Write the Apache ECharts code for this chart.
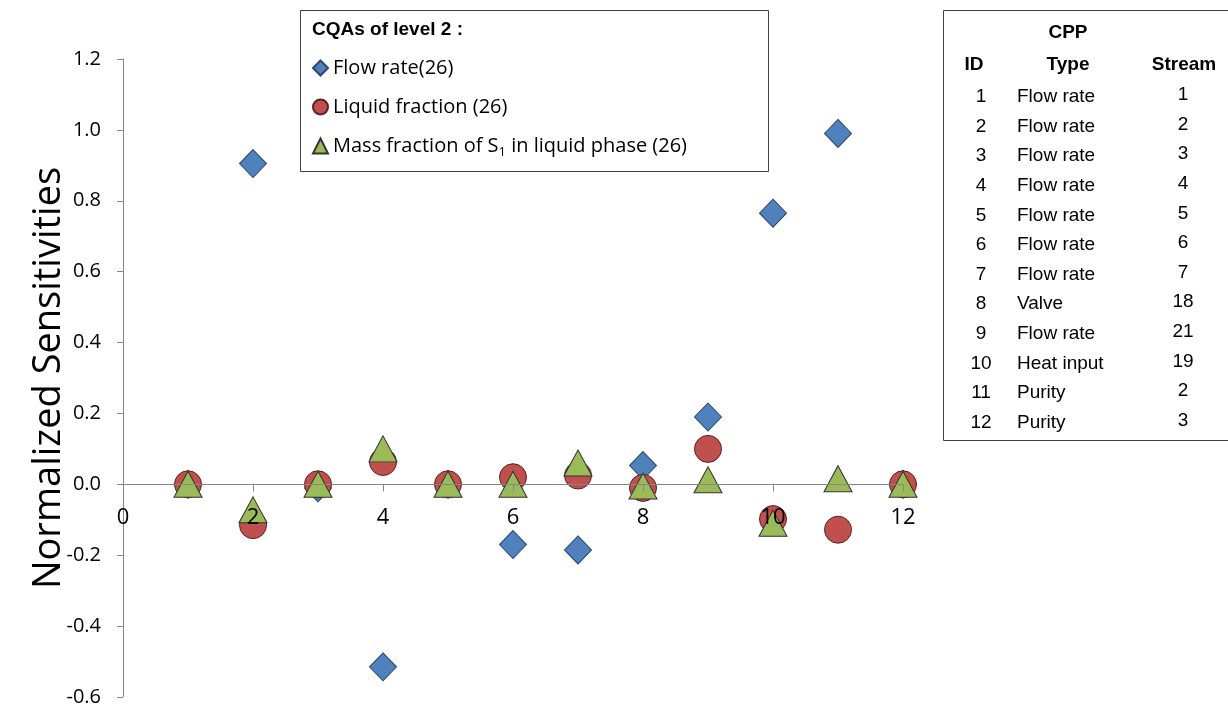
<!DOCTYPE html>
<html>
<head>
<meta charset="utf-8">
<script src="https://cdn.jsdelivr.net/npm/echarts@6/dist/echarts.min.js"></script>
<style>
  html, body { margin: 0; padding: 0; background: #fff; }
  #chart { width: 1228px; height: 711px; }
</style>
</head>
<body>
<div id="chart"></div>
<script>
// CPP ids on the x axis
var cppIds = [1, 2, 3, 4, 5, 6, 7, 8, 9, 10, 11, 12];
// normalized sensitivities
var flowRate = [0, 0.905, -0.01, -0.515, 0, -0.17, -0.185, 0.053, 0.19, 0.765, 0.99, 0];
var liquidFraction = [0, -0.115, 0, 0.063, 0, 0.02, 0.025, -0.01, 0.1, -0.098, -0.128, 0];
var massFraction = [0, -0.072, 0, 0.1, 0, 0, 0.06, -0.005, 0.013, -0.11, 0.016, 0];

var seriesNames = ["Flow rate(26)", "Liquid fraction (26)", "Mass fraction of S1 in liquid phase (26)"];

// CPP table
var cppTypes = ["Flow rate", "Flow rate", "Flow rate", "Flow rate", "Flow rate", "Flow rate",
  "Flow rate", "Valve", "Flow rate", "Heat input", "Purity", "Purity"];
var cppStreams = [1, 2, 3, 4, 5, 6, 7, 18, 21, 19, 2, 3];

var yMin = -0.6, yMax = 1.2;

function pairs(vals) {
  return cppIds.map(function (id, i) { return [id, vals[i]]; });
}

var myChart = echarts.init(document.getElementById("chart"));

var font = "'Open Sans', 'Liberation Sans', sans-serif";
var tableFont = "'Liberation Sans', Arial, sans-serif";

// grid geometry, the x axis is moved up to sit on y = 0
var gridTop = 59, gridBottom = 14;
var plotH = 711 - gridTop - gridBottom;
var xAxisOffset = -plotH * (0 - yMin) / (yMax - yMin);

// table texts
var table = [];
table.push({ type: "rect", shape: { x: 943.5, y: 10.5, width: 300, height: 430 },
  style: { fill: "#fff", stroke: "#404040", lineWidth: 1 } });
table.push({ type: "text", x: 1068, y: 33, style: { text: "CPP", font: "bold 19px " + tableFont, fill: "#000", align: "center", verticalAlign: "middle" } });
table.push({ type: "text", x: 974, y: 65, style: { text: "ID", font: "bold 19px " + tableFont, fill: "#000", align: "center", verticalAlign: "middle" } });
table.push({ type: "text", x: 1068, y: 65, style: { text: "Type", font: "bold 19px " + tableFont, fill: "#000", align: "center", verticalAlign: "middle" } });
table.push({ type: "text", x: 1184, y: 65, style: { text: "Stream", font: "bold 19px " + tableFont, fill: "#000", align: "center", verticalAlign: "middle" } });
cppIds.forEach(function (id, i) {
  var y = 97 + i * 29.6;
  table.push({ type: "text", x: 981, y: y, style: { text: String(id), font: "19px " + tableFont, fill: "#000", align: "center", verticalAlign: "middle" } });
  table.push({ type: "text", x: 1017, y: y, style: { text: cppTypes[i], font: "19px " + tableFont, fill: "#000", align: "left", verticalAlign: "middle" } });
  table.push({ type: "text", x: 1183, y: y - 2, style: { text: String(cppStreams[i]), font: "19px " + tableFont, fill: "#000", align: "center", verticalAlign: "middle" } });
});

var option = {
  animation: false,
  grid: { left: 123, right: 325, top: gridTop, bottom: gridBottom, outerBoundsMode: "none", containLabel: false },
  graphic: [
    { type: "rect", shape: { x: 300.5, y: 10.5, width: 468, height: 161 },
      style: { fill: "#fff", stroke: "#404040", lineWidth: 1 }, z: -1 },
    { type: "text", x: 312, y: 30, style: { text: "CQAs of level 2 :", font: "bold 19px " + tableFont, fill: "#000", verticalAlign: "middle" } }
  ].concat(table),
  legend: {
    orient: "vertical",
    left: 307,
    top: 50,
    itemGap: 13,
    itemWidth: 15,
    itemHeight: 15,
    data: seriesNames,
    formatter: function (name) {
      if (name.indexOf("S1") >= 0) {
        return "Mass fraction of S{sub|1} in liquid phase (26)";
      }
      return name;
    },
    textStyle: {
      fontFamily: font,
      fontSize: 20,
      color: "#000",
      lineHeight: 26,
      rich: {
        sub: { fontFamily: font, fontSize: 13, color: "#000", verticalAlign: "bottom", padding: [10, 0, 0, 0] }
      }
    }
  },
  xAxis: {
    type: "value",
    min: 0,
    max: 12,
    interval: 2,
    offset: xAxisOffset,
    z: 10,
    axisLine: { onZero: false, lineStyle: { color: "#868686" } },
    axisTick: { length: 7, lineStyle: { color: "#868686" } },
    splitLine: { show: false },
    axisLabel: { fontFamily: font, fontSize: 22, color: "#000", margin: 22, hideOverlap: false }
  },
  yAxis: {
    type: "value",
    min: yMin,
    max: yMax,
    interval: 0.2,
    name: "Normalized Sensitivities",
    nameLocation: "middle",
    nameGap: 55,
    nameMoveOverlap: false,
    nameTextStyle: { fontFamily: font, fontSize: 38, color: "#000" },
    axisLine: { show: true, lineStyle: { color: "#868686" } },
    axisTick: { show: true, length: 6, lineStyle: { color: "#868686" } },
    splitLine: { show: false },
    axisLabel: {
      fontFamily: font, fontSize: 20, color: "#000", margin: 22,
      formatter: function (v) { return v.toFixed(1); }
    }
  },
  series: [
    {
      name: seriesNames[0],
      type: "scatter",
      symbol: "diamond",
      symbolSize: [27, 28],
      itemStyle: { color: "#4F81BD", borderColor: "#2c4770", borderWidth: 1, opacity: 1 },
      data: pairs(flowRate)
    },
    {
      name: seriesNames[1],
      type: "scatter",
      symbol: "circle",
      symbolSize: 27,
      itemStyle: { color: "#C0504D", borderColor: "#5a2220", borderWidth: 1, opacity: 1 },
      data: pairs(liquidFraction)
    },
    {
      name: seriesNames[2],
      type: "scatter",
      symbol: "triangle",
      symbolSize: [28, 26],
      itemStyle: { color: "#9BBB59", borderColor: "#333", borderWidth: 1, opacity: 1 },
      data: pairs(massFraction)
    }
  ]
};

myChart.setOption(option);
</script>
</body>
</html>
